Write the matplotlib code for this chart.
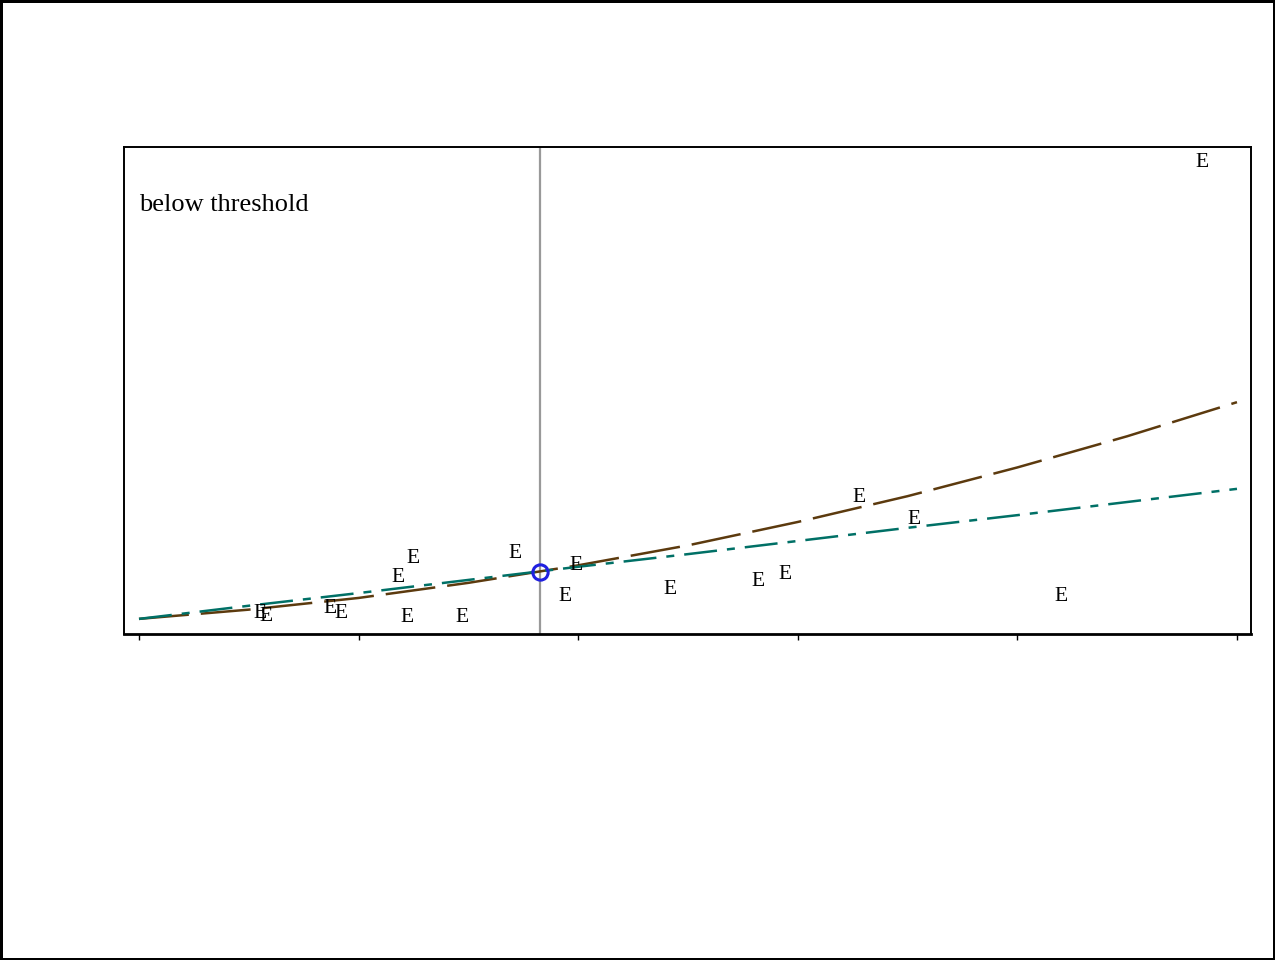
import matplotlib.pyplot as plt

curve_x = [0.0, 0.5, 1.0, 1.5, 2.0, 2.5, 3.0, 3.5, 4.0, 4.5, 5.0]
brown_fit = [0.31, 0.50, 0.74, 1.05, 1.41, 1.82, 2.30, 2.83, 3.42, 4.06, 4.76]
teal_fit = [0.31, 0.58, 0.84, 1.11, 1.38, 1.64, 1.91, 2.18, 2.44, 2.71, 2.98]

# observed points, drawn as "E" labels
obs_x = [4.84, 3.28, 3.53, 1.25, 1.71, 1.18, 1.99, 1.94, 2.42, 2.82, 2.94,
         4.20, 0.55, 0.58, 0.87, 0.92, 1.22, 1.47]
obs_y = [9.69, 2.81, 2.36, 1.54, 1.66, 1.15, 1.40, 0.76, 0.92, 1.07, 1.23,
         0.76, 0.43, 0.35, 0.53, 0.43, 0.33, 0.33]

threshold_x = 1.826
threshold_y = 1.273
xticks = [0, 1, 2, 3, 4, 5]

fig = plt.figure(figsize=(12.75, 9.6), dpi=100)
fig.patch.set_edgecolor('black')
fig.patch.set_linewidth(2.5)
ax = fig.add_axes([0.0973, 0.3396, 0.8839, 0.5073])

ax.plot(curve_x, brown_fit, color='#5C3A0E', lw=1.8, dashes=(20, 4.8))
ax.plot(curve_x, teal_fit, color='#007066', lw=1.8, dashes=(13.2, 4, 3.2, 4))
ax.axvline(threshold_x, color='#999999', lw=1.6, zorder=1)
ax.plot([threshold_x], [threshold_y], marker='o', ms=11, mfc='none',
        mec='#2020E0', mew=2.2, zorder=5)

for x, y in zip(obs_x, obs_y):
    ax.text(x, y, 'E', ha='center', va='center', fontsize=15.5,
            family='Liberation Serif', color='black')

ax.text(0.013, 0.88, 'below threshold', transform=ax.transAxes,
        fontsize=19, family='Liberation Serif', ha='left', va='center')

ax.set_xlim(-0.068, 5.064)
ax.set_ylim(0, 10)
ax.set_xticks(xticks)
ax.set_xticklabels([])
ax.set_yticks([])
ax.tick_params(axis='x', direction='out', length=4, width=1)
for s in ax.spines.values():
    s.set_linewidth(1.4)
ax.spines['bottom'].set_linewidth(2)

fig.savefig('out.png', dpi=100, edgecolor=fig.get_edgecolor())
